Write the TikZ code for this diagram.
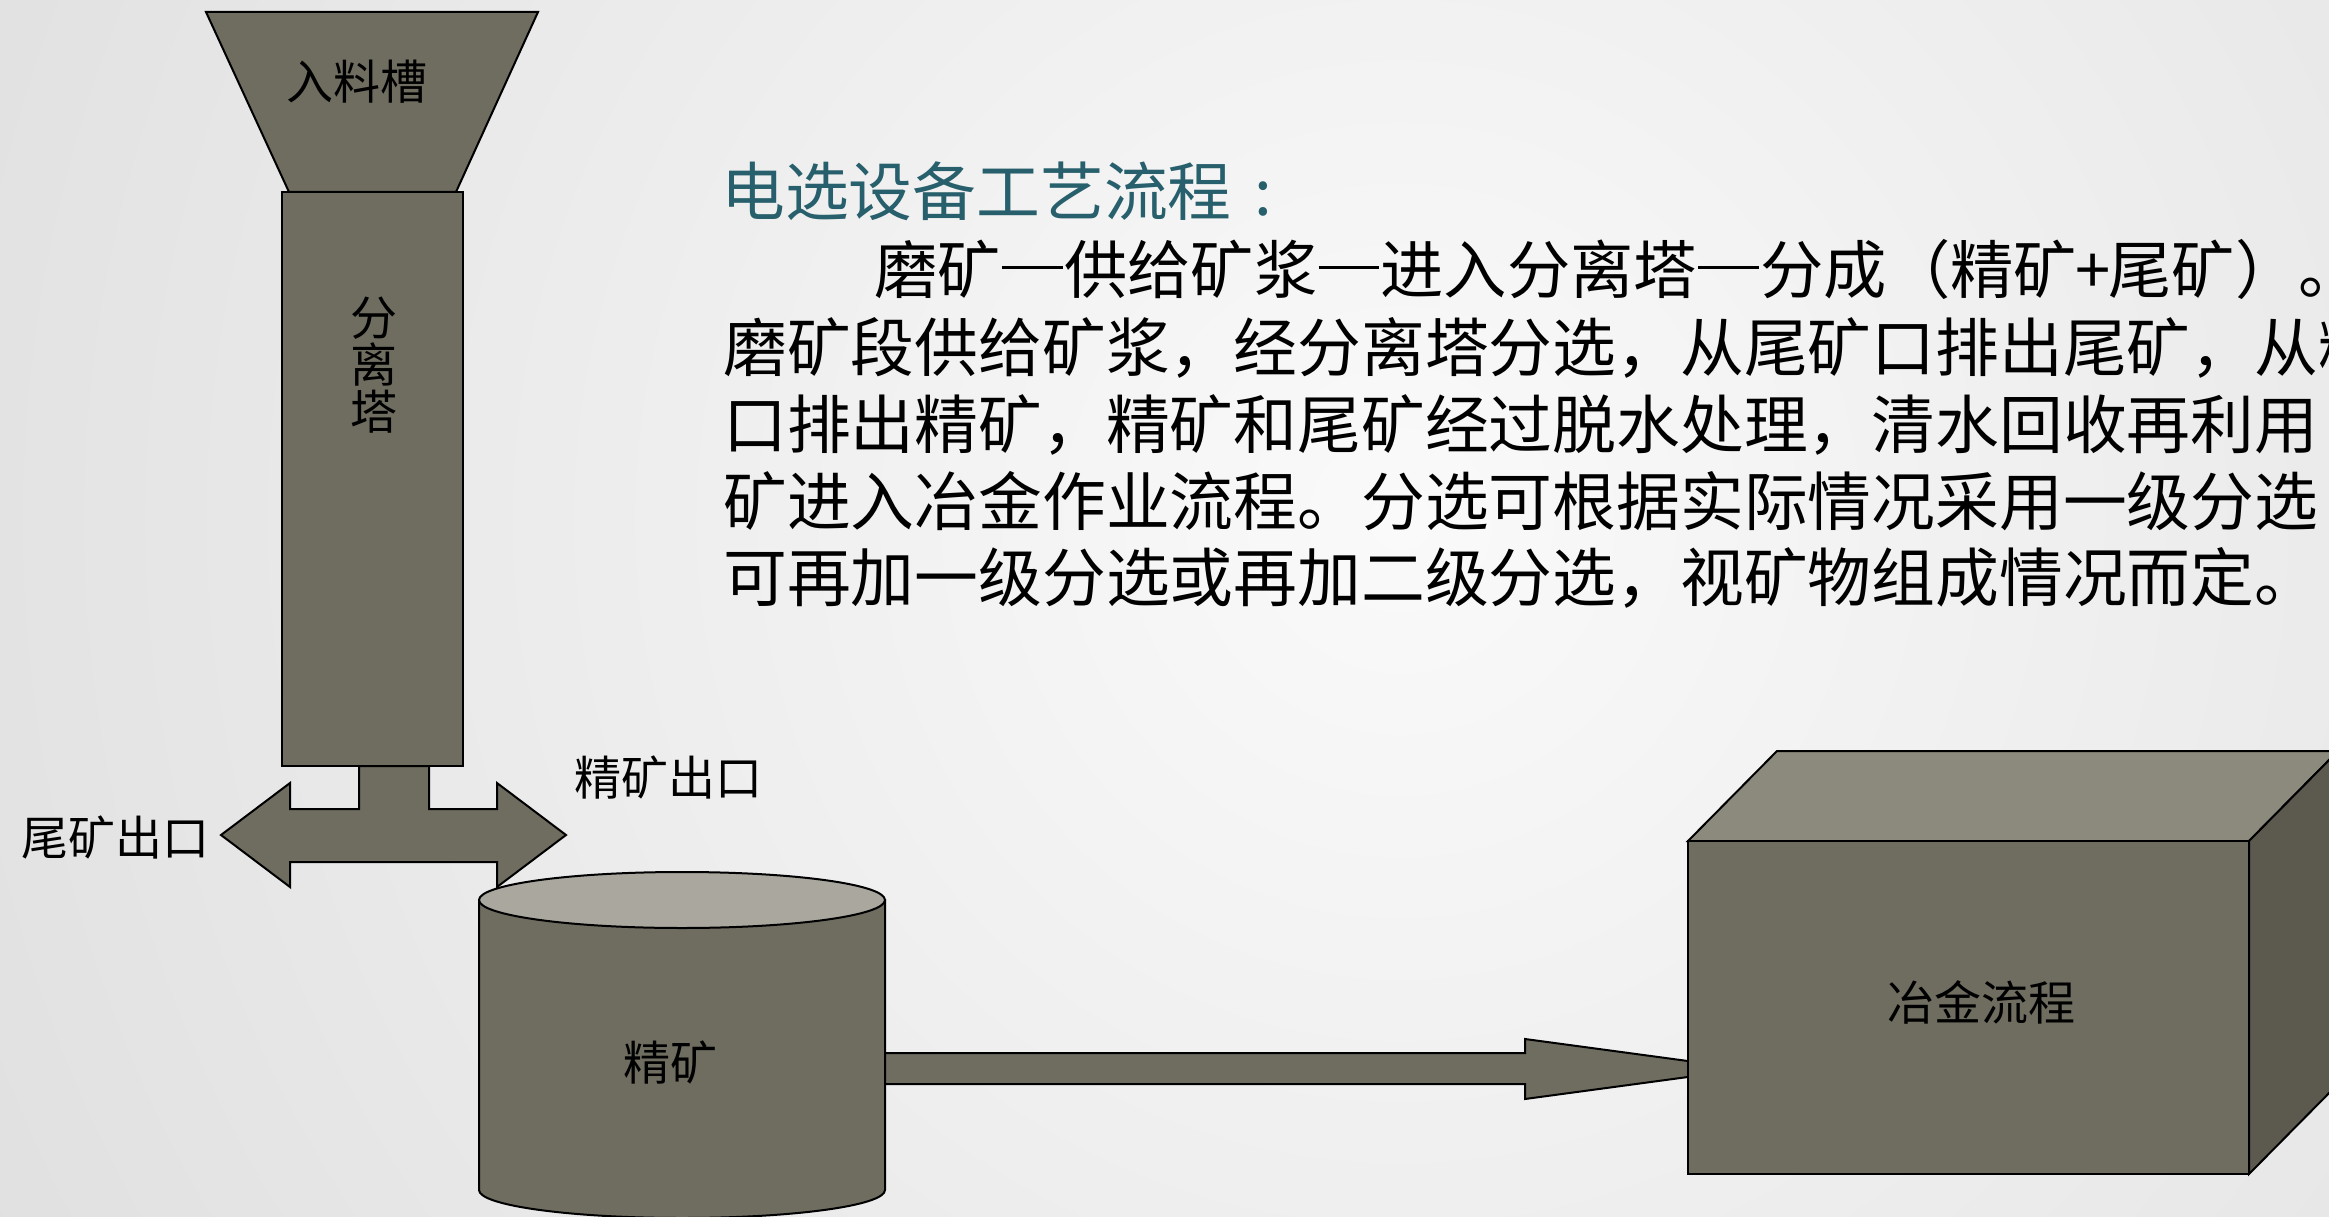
\documentclass[tikz,border=0pt]{standalone}
\usepackage{fontspec}
\newfontfamily\cjk{Noto Sans CJK SC}
\definecolor{bodyfill}{HTML}{6F6C60}
\definecolor{toptint}{HTML}{AAA79F}
\definecolor{cubetop}{HTML}{8C8A7D}
\definecolor{cubeside}{HTML}{5C5A4E}
\definecolor{headcol}{HTML}{275F6C}
\definecolor{bgin}{HTML}{FAFAFA}
\definecolor{bgout}{HTML}{C9C9C9}
\newcommand{\dashcell}{\makebox[1em][c]{\rule[0.38em]{0.96em}{0.05em}}}
\newcommand{\pluscell}{\makebox[0.5em][c]{+}}
\newcommand{\coloncell}{\makebox[1em][c]{:}}
\begin{document}
\begin{tikzpicture}[x=1pt,y=-1pt,
  solidpart/.style={fill=bodyfill, draw=black, line width=2pt, line join=miter},
  lbl/.style={font=\cjk\fontsize{47}{47}\selectfont, text=black, inner sep=0pt},
  para/.style={font=\cjk\fontsize{63.8}{63.8}\selectfont, text=black, inner sep=0pt, anchor=west},
]
\useasboundingbox (0,0) rectangle (2329,1217);
\begin{scope}
\clip (0,0) rectangle (2329,1217);
% background
\shade[inner color=bgin, outer color=bgout] (1400,520) circle (3000);

% hopper and tower
\draw[solidpart] (206,12) -- (538,12) -- (456,192) -- (289,192) -- cycle;
\draw[solidpart] (282,192) rectangle (463,766);
\node[lbl] (hopper) at (357,82) {入料槽};
\node[lbl, align=center] (tower) at (374,365) {分\\离\\塔};

% double outlet arrow
\draw[solidpart] (359,766) -- (359,809) -- (290,809) -- (290,783) -- (221,835)
  -- (290,887) -- (290,862) -- (497,862) -- (497,887) -- (566,835)
  -- (497,783) -- (497,809) -- (429,809) -- (429,766) -- cycle;
\node[lbl] (tailout) at (115,837) {尾矿出口};
\node[lbl] (concout) at (668,777) {精矿出口};

% arrow to metallurgy (under the cube)
\draw[solidpart] (885,1053) -- (1525,1053) -- (1525,1039) -- (1747,1069)
  -- (1525,1099) -- (1525,1084) -- (885,1084);

% cylinder
\draw[solidpart] (479,900) -- (479,1190) arc[start angle=180, end angle=0, x radius=203, y radius=28] -- (885,900) -- cycle;
\draw[solidpart, fill=toptint] (682,900) ellipse [x radius=203, y radius=28];
\node[lbl] (conc) at (670,1062) {精矿};

% cube
\draw[solidpart, fill=cubetop] (1688,841) -- (1777,751) -- (2338,751) -- (2249,841) -- cycle;
\draw[solidpart, fill=cubeside] (2249,841) -- (2338,751) -- (2338,1084) -- (2249,1174) -- cycle;
\draw[solidpart] (1688,841) rectangle (2249,1174);
\node[lbl] (metal) at (1981,1002) {冶金流程};

% text block
\node[para, text=headcol] (title) at (721,191) {电选设备工艺流程\coloncell};
\node[para, font=\cjk\fontsize{63.3}{63.3}\selectfont] (l1) at (874,269) {磨矿\dashcell 供给矿浆\dashcell 进入分离塔\dashcell 分成（精矿\pluscell 尾矿）。};
\node[para] (l2) at (723,348) {磨矿段供给矿浆，经分离塔分选，从尾矿口排出尾矿，从精};
\node[para] (l3) at (723,425) {口排出精矿，精矿和尾矿经过脱水处理，清水回收再利用};
\node[para] (l4) at (723,501) {矿进入冶金作业流程。分选可根据实际情况采用一级分选};
\node[para] (l5) at (723,578) {可再加一级分选或再加二级分选，视矿物组成情况而定。};
\end{scope}
\end{tikzpicture}
\end{document}
